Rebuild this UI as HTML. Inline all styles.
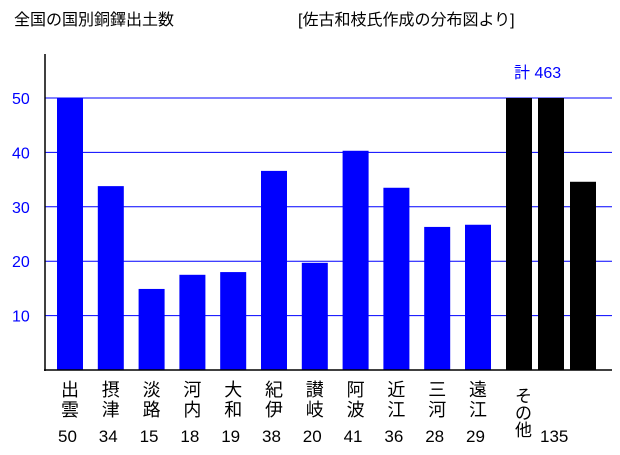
<!DOCTYPE html>
<html><head><meta charset="utf-8"><style>
body{margin:0;background:#fff;width:620px;height:450px;overflow:hidden}
svg text{font-family:"Liberation Sans","Noto Sans CJK JP",sans-serif}
</style></head><body>
<svg width="620" height="450">
<text x="14" y="25" font-size="16" fill="#000">全国の国別銅鐸出土数</text>
<text x="298" y="25" font-size="16" fill="#000">[佐古和枝氏作成の分布図より]</text>
<g id="grid"></g><g id="bars"></g><g id="labels"></g>
<line x1="45" y1="54" x2="45" y2="371" stroke="#000" stroke-width="1.5"/>
<line x1="44" y1="370" x2="612" y2="370" stroke="#000" stroke-width="1.5"/>
<text x="514" y="78" font-size="16" fill="#00f">計  463</text>
</svg>
<script>
const categories=["出雲","摂津","淡路","河内","大和","紀伊","讃岐","阿波","近江","三河","遠江"];
const barValues=[50,33.8,14.9,17.5,18,36.6,19.7,40.3,33.5,26.3,26.7];
const printedValues=["50","34","15","18","19","38","20","41","36","28","29"];
const otherValues=[50,50,34.6];
const otherPrinted="135";
const yTicks=[10,20,30,40,50];
const NS="http://www.w3.org/2000/svg";
function y(v){return 370-v*5.44;}
function xb(i){return 57+i*40.8;}
function xo(i){return 506+i*32;}
function mk(tag,attrs,parent){const e=document.createElementNS(NS,tag);for(const k in attrs)e.setAttribute(k,attrs[k]);document.getElementById(parent).appendChild(e);return e;}
yTicks.forEach(t=>{
 const l=mk("line",{x1:45,x2:612,y1:y(t),y2:y(t),stroke:"#00f","stroke-width":1},"grid");
 
 
 const tx=mk("text",{x:12,y:y(t)+6,"font-size":16,fill:"#00f"},"grid");tx.textContent=t;
 
 
});
barValues.forEach((v,i)=>{
 const r=mk("rect",{x:xb(i),y:y(v),width:26,height:370-y(v),fill:"#00f"},"bars");
 
 
 const c=categories[i];
 for(let k=0;k<2;k++){const t=mk("text",{x:xb(i)+4,y:396+k*20,"font-size":18,fill:"#000"},"labels");t.textContent=c[k];
 
 }
 const n=mk("text",{x:xb(i)+1,y:442,"font-size":17,fill:"#000"},"labels");n.textContent=printedValues[i];
 
 
});
otherValues.forEach((v,i)=>{
 const r=mk("rect",{x:xo(i),y:y(v),width:26,height:370-y(v),fill:"#000"},"bars");
 
 
});
["そ","の","他"].forEach((ch,k)=>{const t=mk("text",{x:515,y:402+k*17,"font-size":17,fill:"#000"},"labels");t.textContent=ch;
 
 });
const o=mk("text",{x:540,y:442,"font-size":17,fill:"#000"},"labels");o.textContent=otherPrinted;


</script>
</body></html>
